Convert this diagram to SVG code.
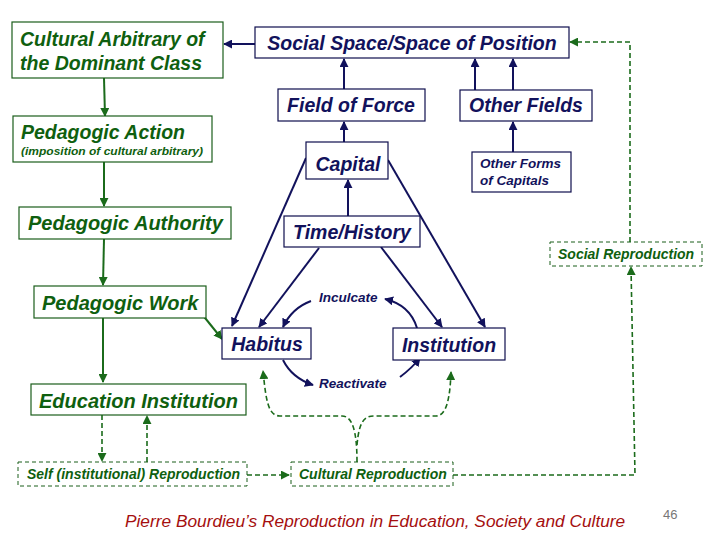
<svg xmlns="http://www.w3.org/2000/svg" width="720" height="540" viewBox="0 0 720 540">
<defs>
<style>
.bg{fill:#ffffff}
.gbox{fill:#ffffff;stroke:#1b5e1b;stroke-width:1.2}
.gdbox{fill:#ffffff;stroke:#1b5e1b;stroke-width:1;stroke-dasharray:4,3}
.nbox{fill:#ffffff;stroke:#0e0e4e;stroke-width:1.2}
.gt{fill:#0f5f0f;font-family:"Liberation Sans",Arial,sans-serif;font-weight:bold;font-style:italic}
.nt{fill:#12125c;font-family:"Liberation Sans",Arial,sans-serif;font-weight:bold;font-style:italic}
.nl{fill:none;stroke:#12125c;stroke-width:2}
.gl{fill:none;stroke:#1b6b1b;stroke-width:2}
.gd{fill:none;stroke:#1b6b1b;stroke-width:1.6;stroke-dasharray:5,3}
</style>
<marker id="an" viewBox="0 0 10 10" refX="9" refY="5" markerWidth="9" markerHeight="9" markerUnits="userSpaceOnUse" orient="auto"><path d="M0,0 L10,5 L0,10 z" fill="#12125c"/></marker>
<marker id="ag" viewBox="0 0 10 10" refX="9" refY="5" markerWidth="9" markerHeight="9" markerUnits="userSpaceOnUse" orient="auto"><path d="M0,0 L10,5 L0,10 z" fill="#1b6b1b"/></marker>
</defs>
<rect class="bg" x="0" y="0" width="720" height="540"/>

<g id="connectors">
<path class="nl" d="M255,44 L224,44" marker-end="url(#an)"/>
<path class="nl" d="M344,89 L344,59" marker-end="url(#an)"/>
<path class="nl" d="M475,90 L475,59" marker-end="url(#an)"/>
<path class="nl" d="M513,90 L513,59" marker-end="url(#an)"/>
<path class="nl" d="M344,142 L344,122" marker-end="url(#an)"/>
<path class="nl" d="M513,152 L513,122" marker-end="url(#an)"/>
<path class="nl" d="M348,216 L348,180" marker-end="url(#an)"/>
<path class="nl" d="M306,158 L232,326" marker-end="url(#an)"/>
<path class="nl" d="M319,248 L259,327" marker-end="url(#an)"/>
<path class="nl" d="M388,160 L485,327" marker-end="url(#an)"/>
<path class="nl" d="M381,247 L442,327" marker-end="url(#an)"/>
<path class="nl" d="M417,328 Q410,305 385,299" marker-end="url(#an)"/>
<path class="nl" d="M311,301 Q292,308 283,327" marker-end="url(#an)"/>
<path class="nl" d="M283,360 Q292,378 313,385" marker-end="url(#an)"/>
<path class="nl" d="M400,377 Q412,368 420,358" marker-end="url(#an)"/>
<path class="gl" d="M104,78 L105,116" marker-end="url(#ag)"/>
<path class="gl" d="M104,162 L104,206" marker-end="url(#ag)"/>
<path class="gl" d="M104,239 L103,285" marker-end="url(#ag)"/>
<path class="gl" d="M193,303 L222,339" marker-end="url(#ag)"/>
<path class="gl" d="M103,318 L103,382" marker-end="url(#ag)"/>
<path class="gd" d="M102,415 L102,461" marker-end="url(#ag)"/>
<path class="gd" d="M147,462 L147,416" marker-end="url(#ag)"/>
<path class="gd" d="M247,475 L289,475" marker-end="url(#ag)"/>
<path class="gd" d="M357,462 C357,430 352,416 342,416 L280,416 C268,416 266,400 263,371" marker-end="url(#ag)"/>
<path class="gd" d="M357,445 C359,422 364,416 374,416 L436,416 C446,416 450,400 451,372" marker-end="url(#ag)"/>
<path class="gd" d="M453,475 L635,475 L631,267" marker-end="url(#ag)"/>
<path class="gd" d="M630,242 L630,42 L570,42" marker-end="url(#ag)"/>
</g>

<g id="cultural-arbitrary"><rect class="gbox" x="12" y="22" width="211" height="56"/>
<text class="gt" x="20" y="46" font-size="19.5">Cultural Arbitrary of</text>
<text class="gt" x="20" y="70" font-size="19.5">the Dominant Class</text></g>

<g id="social-space"><rect class="nbox" x="255" y="27" width="314" height="31"/>
<text class="nt" x="412" y="50" font-size="19.5" text-anchor="middle">Social Space/Space of Position</text></g>

<g id="field-of-force"><rect class="nbox" x="278" y="89" width="147" height="32"/>
<text class="nt" x="351" y="112" font-size="19.5" text-anchor="middle">Field of Force</text></g>

<g id="other-fields"><rect class="nbox" x="460" y="90" width="132" height="31"/>
<text class="nt" x="526" y="112" font-size="19.5" text-anchor="middle">Other Fields</text></g>

<g id="pedagogic-action"><rect class="gbox" x="13" y="116" width="199" height="46"/>
<text class="gt" x="21" y="139" font-size="19.5">Pedagogic Action</text>
<text class="gt" x="21" y="155" font-size="11.5" textLength="182" lengthAdjust="spacingAndGlyphs">(imposition of cultural arbitrary)</text></g>

<g id="capital"><rect class="nbox" x="306" y="142" width="82" height="37"/>
<text class="nt" x="348" y="171" font-size="19.5" text-anchor="middle">Capital</text></g>

<g id="other-forms"><rect class="nbox" x="472" y="152" width="99" height="40"/>
<text class="nt" x="480" y="168" font-size="13.5">Other Forms</text>
<text class="nt" x="480" y="185" font-size="13.5">of Capitals</text></g>

<g id="pedagogic-authority"><rect class="gbox" x="19" y="207" width="212" height="32"/>
<text class="gt" x="28" y="230" font-size="20">Pedagogic Authority</text></g>

<g id="time-history"><rect class="nbox" x="284" y="216" width="136" height="31"/>
<text class="nt" x="352" y="239" font-size="19.5" text-anchor="middle">Time/History</text></g>

<g id="social-reproduction"><rect class="gdbox" x="550" y="242" width="152" height="24"/>
<text class="gt" x="558" y="259" font-size="14">Social Reproduction</text></g>

<g id="pedagogic-work"><rect class="gbox" x="34" y="286" width="172" height="32"/>
<text class="gt" x="42" y="310" font-size="20">Pedagogic Work</text></g>

<g id="inculcate"><text class="nt" x="319" y="302" font-size="13.5">Inculcate</text></g>

<g id="habitus"><rect class="nbox" x="222" y="328" width="89" height="31"/>
<text class="nt" x="267" y="351" font-size="19.5" text-anchor="middle">Habitus</text></g>

<g id="institution"><rect class="nbox" x="393" y="328" width="112" height="32"/>
<text class="nt" x="449" y="352" font-size="19.5" text-anchor="middle">Institution</text></g>

<g id="reactivate"><text class="nt" x="319" y="388" font-size="13.5">Reactivate</text></g>

<g id="education-institution"><rect class="gbox" x="31" y="384" width="215" height="31"/>
<text class="gt" x="39" y="408" font-size="20">Education Institution</text></g>

<g id="self-reproduction"><rect class="gdbox" x="18" y="462" width="229" height="24"/>
<text class="gt" x="27" y="479" font-size="14">Self (institutional) Reproduction</text></g>

<g id="cultural-reproduction"><rect class="gdbox" x="291" y="462" width="162" height="24"/>
<text class="gt" x="299" y="479" font-size="14">Cultural Reproduction</text></g>

<g id="footer">
<text x="125" y="527" font-size="17.3" fill="#a50f0f" font-family="'Liberation Sans',Arial,sans-serif" font-style="italic">Pierre Bourdieu’s Reproduction in Education, Society and Culture</text>
<text x="663" y="519" font-size="13" fill="#777777" font-family="'Liberation Sans',Arial,sans-serif">46</text>
</g>
</svg>
